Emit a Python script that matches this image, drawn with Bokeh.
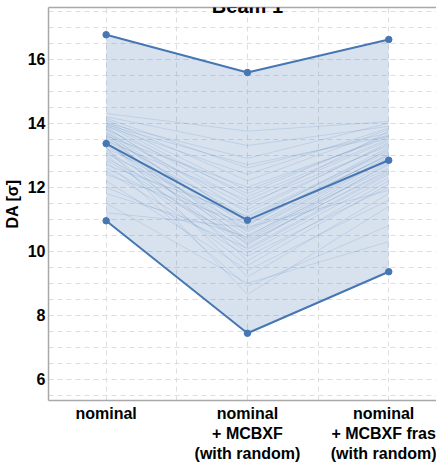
from bokeh.plotting import figure
from bokeh.models import (FixedTicker, SingleIntervalTicker, LinearAxis, Label, Range1d)
from bokeh.embed import file_html
from bokeh.resources import INLINE

# ---- data ----
categories = ["nominal",
              "nominal\n+ MCBXF\n(with random)",
              "nominal\n+ MCBXF fras\n(with random)"]
x_pos = [0, 1, 2]
da_max = [16.76, 15.58, 16.61]
da_mid = [13.36, 10.97, 12.84]
da_min = [10.95, 7.44, 9.36]

seed_nominal = [14.30, 14.20, 14.15, 14.10, 14.05, 14.00, 14.00, 13.95, 13.90, 13.90,
                13.85, 13.80, 13.80, 13.75, 13.70, 13.70, 13.65, 13.60, 13.60, 13.55,
                13.50, 13.50, 13.45, 13.40, 13.30, 13.25, 13.20, 13.15, 13.10, 13.05,
                13.00, 12.90, 12.85, 12.80, 12.70, 12.60, 12.50, 12.40, 12.20, 12.00,
                11.80, 11.50, 11.20, 13.95]
seed_mcbxf = [13.75, 13.30, 12.60, 12.20, 11.90, 12.90, 11.70, 11.50, 10.90, 12.40,
              11.20, 10.60, 11.80, 10.30, 11.40, 9.70, 10.80, 12.00, 10.20, 11.05,
              9.20, 10.50, 11.60, 10.05, 10.70, 8.65, 11.30, 10.40, 9.95, 10.95,
              9.55, 10.65, 10.25, 8.90, 11.10, 10.35, 9.85, 10.85, 9.40, 10.10,
              10.45, 9.00, 10.75, 12.70]
seed_fras = [14.05, 13.90, 13.70, 13.80, 13.60, 14.00, 13.50, 13.30, 13.00, 13.85,
             13.40, 12.90, 13.65, 12.50, 13.75, 12.20, 13.20, 13.55, 12.75, 13.10,
             11.80, 12.60, 13.45, 12.40, 13.05, 11.40, 13.35, 12.80, 12.30, 13.25,
             12.10, 12.95, 12.55, 10.80, 13.15, 12.70, 12.00, 13.00, 11.60, 12.45,
             12.90, 10.30, 11.90, 13.60]

y_tick_interval = 2
title_text = "Beam 1"
y_label = "DA [σ]"

MAIN = "#4677b3"
GRID = "#dedede"
AXIS = "#a8a8a8"
FONT = "Liberation Sans"

Y_TOP = 17.61
p = figure(width=436, height=465,
           x_range=Range1d(-0.408, 2.338), y_range=Range1d(5.34, Y_TOP),
           output_backend="svg", toolbar_location=None,
           min_border_top=7, min_border_right=0, min_border_left=46, min_border_bottom=0)
p.outline_line_color = None
p.background_fill_color = "white"
p.border_fill_color = "white"

# band between min and max
p.varea(x=x_pos, y1=da_min, y2=da_max, fill_color=MAIN, fill_alpha=0.21)

# individual seeds
seed_xs = [x_pos for _ in seed_nominal]
seed_ys = [[a, b, c] for a, b, c in zip(seed_nominal, seed_mcbxf, seed_fras)]
p.multi_line(xs=seed_xs, ys=seed_ys, line_color=MAIN, line_alpha=0.22, line_width=0.8)

# summary lines
for arr in (da_max, da_mid, da_min):
    p.line(x_pos, arr, line_color=MAIN, line_width=2)
    p.scatter(x_pos, arr, size=6.5, fill_color=MAIN, line_color=MAIN)

# x axis
p.xaxis.ticker = FixedTicker(ticks=x_pos, minor_ticks=[-0.5, 0.5, 1.5, 2.5])
p.xaxis.major_label_overrides = {x: c for x, c in zip(x_pos, categories)}
# y axis
p.yaxis.ticker = SingleIntervalTicker(interval=y_tick_interval, num_minor_ticks=4)
p.yaxis.axis_label = y_label

for ax in (p.xaxis, p.yaxis):
    ax.major_tick_line_color = None
    ax.minor_tick_line_color = None
    ax.major_tick_out = 0
    ax.major_tick_in = 0
    ax.minor_tick_out = 0
    ax.minor_tick_in = 0
    ax.axis_line_color = AXIS
    ax.axis_line_width = 1.5
    ax.major_label_text_font = FONT
    ax.major_label_text_font_style = "bold"
    ax.major_label_text_font_size = "16px"
    ax.major_label_text_color = "black"
    ax.axis_label_text_font = FONT
    ax.axis_label_text_font_style = "bold"
    ax.axis_label_text_font_size = "16px"
    ax.axis_label_text_color = "black"
p.xaxis.major_label_standoff = 4
p.xaxis.major_label_text_line_height = 1.2
p.yaxis.major_label_standoff = 3
p.yaxis.axis_label_standoff = 4

# top border
top = LinearAxis(ticker=FixedTicker(ticks=[]), axis_line_color=AXIS, axis_line_width=1.5,
                 major_tick_line_color=None, minor_tick_line_color=None,
                 major_tick_out=0, major_tick_in=0, minor_tick_out=0, minor_tick_in=0,
                 major_label_standoff=0, major_label_text_font_size="0px")
p.add_layout(top, "above")

for g in (p.xgrid, p.ygrid):
    g.grid_line_color = GRID
    g.grid_line_dash = "5 4"
    g.minor_grid_line_color = GRID
    g.minor_grid_line_dash = "5 4"

p.add_layout(Label(x=1, y=Y_TOP, y_offset=2, text=title_text, text_align="center",
                   text_baseline="alphabetic",
                   text_font=FONT, text_font_style="bold", text_font_size="20px",
                   text_color="black"))

open("out.html", "w").write(file_html(p, INLINE))
